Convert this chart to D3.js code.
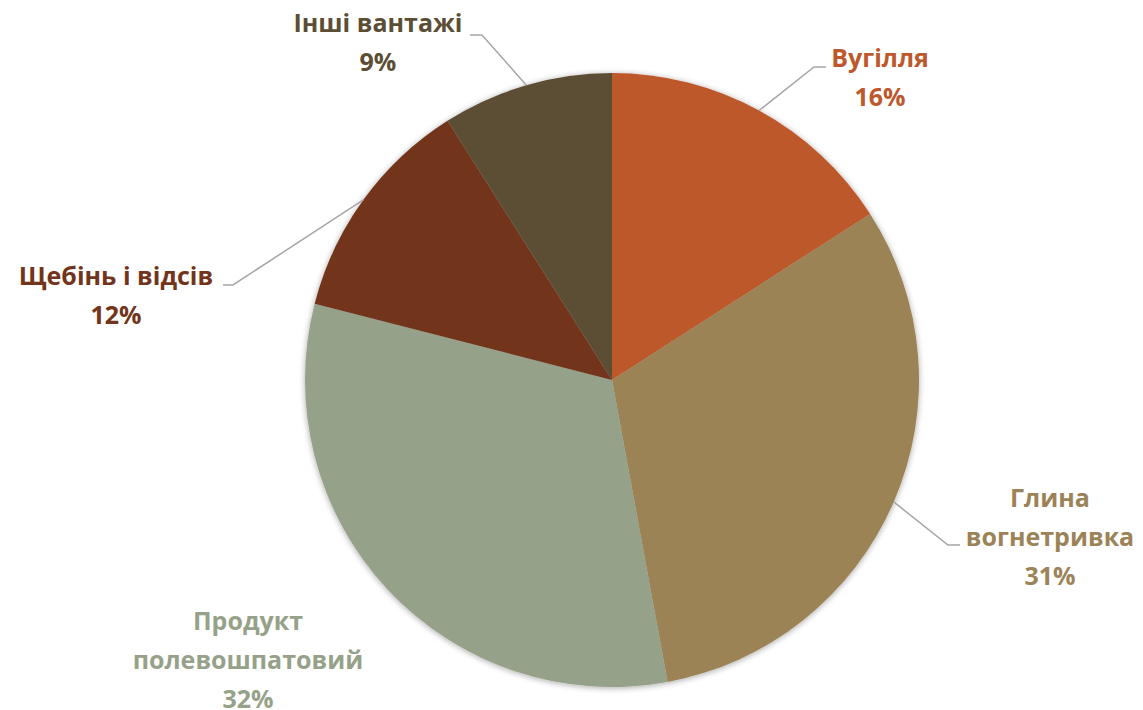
<!DOCTYPE html>
<html><head><meta charset="utf-8">
<script src="https://cdn.jsdelivr.net/npm/d3@7/dist/d3.min.js"></script>
<style>body{margin:0;background:#fff;} svg{display:block;}</style>
</head><body>
<svg id="c" width="1143" height="710"></svg>
<script>
const categories = ["Вугілля", "Глина вогнетривка", "Продукт полевошпатовий", "Щебінь і відсів", "Інші вантажі"];
const values = [15.9, 31.2, 31.9, 12.0, 9.0];
const percentLabels = ["16%", "31%", "32%", "12%", "9%"];
const labelLines = [["Вугілля"], ["Глина", "вогнетривка"], ["Продукт", "полевошпатовий"], ["Щебінь і відсів"], ["Інші вантажі"]];
const colors = ["#BD582C", "#9B8357", "#96A189", "#72341A", "#5C4E34"];

// layout
const cx = 612, cy = 380, R = 307;
const labelPos = [
  {x: 880, y: 57, leader: [[826, 67], [814, 67]]},
  {x: 1050, y: 497, leader: [[960, 545], [948, 545]]},
  {x: 248, y: 620, leader: null},
  {x: 116, y: 275, leader: [[223, 285], [233, 285]]},
  {x: 378, y: 22, leader: [[470, 35], [482, 35]]}
];

const svg = d3.select("#c");
const defs = svg.append("defs");
const f = defs.append("filter").attr("id", "sh").attr("x", "-10%").attr("y", "-10%").attr("width", "120%").attr("height", "120%");
f.append("feGaussianBlur").attr("in", "SourceAlpha").attr("stdDeviation", 3);
f.append("feOffset").attr("dx", 0).attr("dy", 1).attr("result", "b");
f.append("feComponentTransfer").append("feFuncA").attr("type", "linear").attr("slope", 0.35);
const m = f.append("feMerge"); m.append("feMergeNode"); m.append("feMergeNode").attr("in", "SourceGraphic");

const pie = d3.pie().sort(null).value(d => d)(values);
const arc = d3.arc().innerRadius(0).outerRadius(R);
const g = svg.append("g").attr("transform", `translate(${cx},${cy})`);
g.append("g").attr("filter", "url(#sh)").selectAll("path").data(pie).join("path")
  .attr("d", arc).attr("fill", (d, i) => colors[i]);

// leader lines
pie.forEach((d, i) => {
  const lp = labelPos[i];
  if (!lp.leader) return;
  const a = (d.startAngle + d.endAngle) / 2;
  const ex = cx + R * Math.sin(a), ey = cy - R * Math.cos(a);
  const pts = [...lp.leader, [ex, ey]];
  svg.append("path").attr("d", d3.line()(pts)).attr("fill", "none")
    .attr("stroke", "#A6A6A6").attr("stroke-width", 1.5);
});

// labels
pie.forEach((d, i) => {
  const lp = labelPos[i];
  const lines = [...labelLines[i], percentLabels[i]];
  const t = svg.append("text").attr("x", lp.x).attr("y", lp.y)
    .attr("text-anchor", "middle").attr("dominant-baseline", "central")
    .attr("font-family", "'Open Sans', Lato, sans-serif").attr("font-weight", "bold")
    .attr("font-size", 25).attr("fill", colors[i]);
  lines.forEach((s, k) => t.append("tspan").attr("x", lp.x).attr("dy", k === 0 ? 0 : 39).text(s));
});
</script>
</body></html>
